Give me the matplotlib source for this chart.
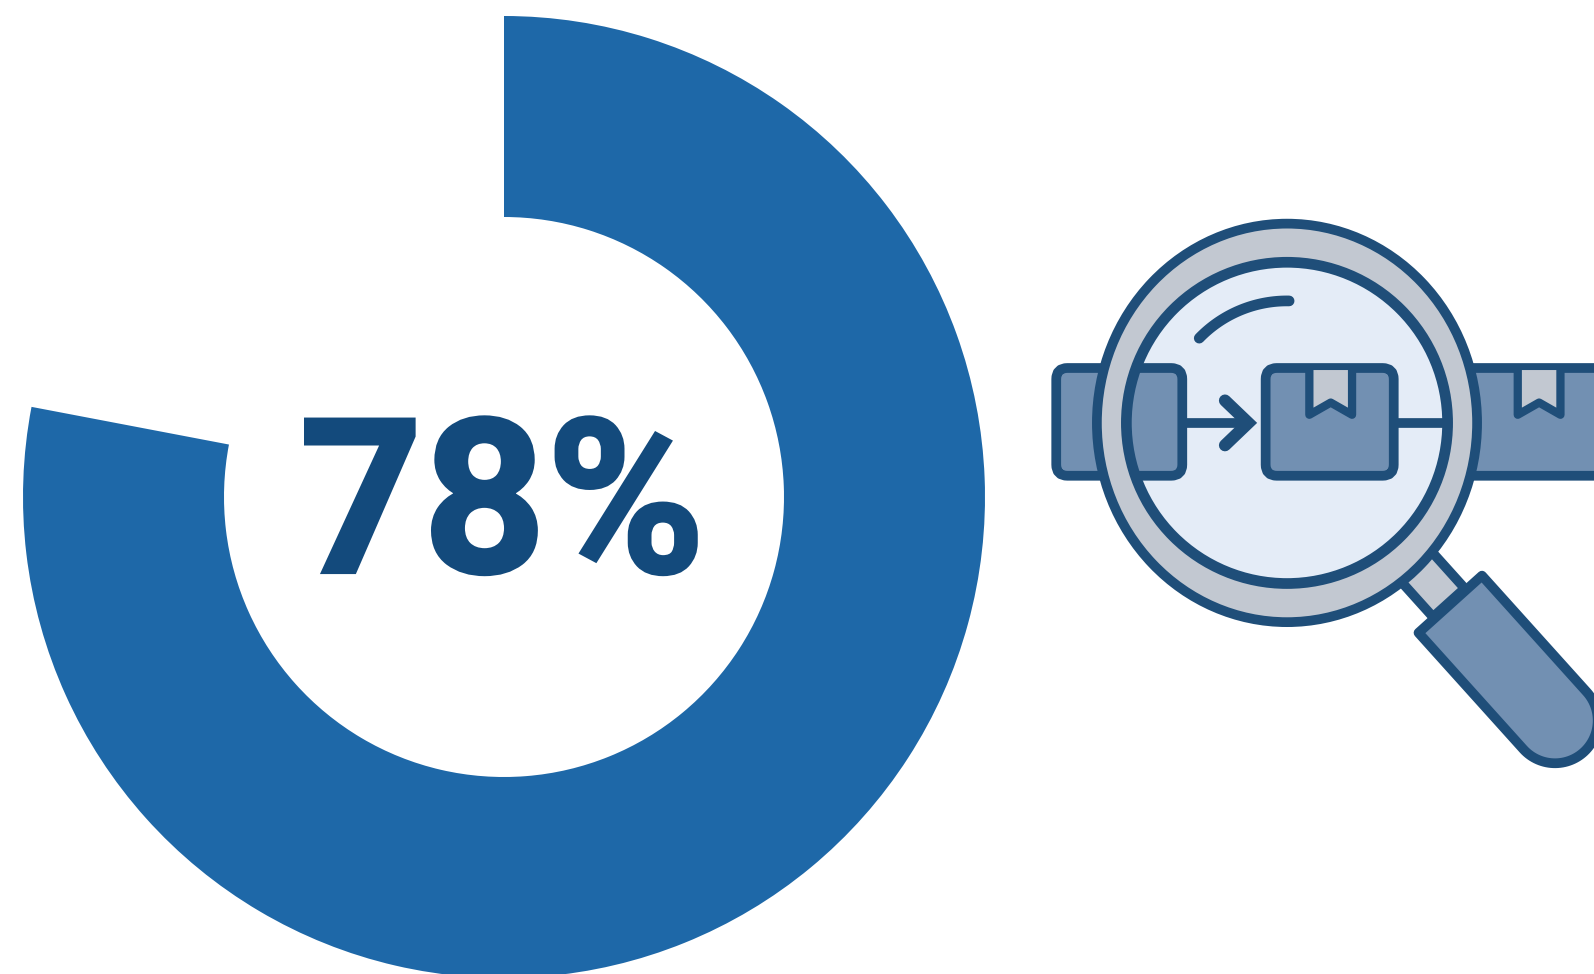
import numpy as np
import matplotlib
matplotlib.use("Agg")
import matplotlib.pyplot as plt
import matplotlib.patheffects as pe
from matplotlib.patches import Circle, Ellipse, FancyBboxPatch, Polygon

# Chart values
share_percent = 78
remainder_percent = 100 - share_percent
center_label = f"{share_percent}%"

W, H = 1594, 974
K = 1594 / 1568  # icon layout grid to canvas pixels
DARK = "#1f4e79"
BLUE = "#1e68a8"
TEXT = "#134a7c"
STEEL = "#7290b2"
GLASS = "#e4ecf7"
GREY = "#c2c8d1"

fig = plt.figure(figsize=(W / 100, H / 100), dpi=100, facecolor="white")

# Donut
donut_ax = fig.add_axes([23 / W, 1 - (16 + 962) / H, 962 / W, 962 / H])
donut_ax.pie(
    [share_percent, remainder_percent],
    colors=[BLUE, "none"],
    startangle=90,
    counterclock=False,
    radius=1.0,
    wedgeprops=dict(width=201 / 481, linewidth=0),
)
donut_ax.set_xlim(-1, 1)
donut_ax.set_ylim(-1, 1)
donut_ax.set_aspect("equal")
donut_ax.axis("off")

# Overlay in pixel units for the label and the magnifier icon
ax = fig.add_axes([0, 0, 1, 1])
ax.set_xlim(0, W / K)
ax.set_ylim(H / K, 0)
ax.axis("off")
ax.patch.set_alpha(0)

# Slightly heavier than the font's bold, with the outline kept sharp at the corners
ax.text(494, 563, center_label, family="Roboto", weight="bold", fontsize=155,
        color=TEXT, ha="center", va="baseline",
        path_effects=[pe.withStroke(linewidth=2.5, foreground=TEXT, joinstyle="miter")])

LW = 7.0  # outline width, points
cx, cy = 1266.0, 416.0
EDGE = 5  # half the outline, in layout units


def rbox(x0, y0, x1, y1, z, fc=STEEL):
    x0, y0, x1, y1 = x0 + EDGE, y0 + EDGE, x1 - EDGE, y1 - EDGE
    inset = 9
    patch = FancyBboxPatch((x0 + inset, y0 + inset), x1 - x0 - 2 * inset, y1 - y0 - 2 * inset,
                           boxstyle=f"round,pad={inset},rounding_size=11",
                           fc=fc, ec=DARK, lw=LW, zorder=z, joinstyle="round")
    ax.add_patch(patch)
    return patch


def tab(x0, x1, z):
    mid = (x0 + x1) / 2
    pts = [(x0, 364), (x0, 408), (mid, 396), (x1, 408), (x1, 364)]
    ax.add_patch(Polygon(pts, closed=False, fc=GREY, ec=DARK, lw=LW * 0.85,
                         joinstyle="round", capstyle="round", zorder=z))


# Belt piece leaving the lens on the right
rbox(1430, 357, 1700, 473, 2)
tab(1493, 1535, 2.5)

# Handle: straight shaft ending in a round cap
a = np.radians(48)
u = np.array([np.cos(a), np.sin(a)])
v = np.array([np.sin(a), -np.cos(a)])
c0 = np.array([cx, cy])
half = 42
start, end = 240, 394
ang = np.linspace(-np.pi / 2, np.pi / 2, 60)
shaft = [c0 + start * u - half * v]
shaft += [c0 + (end + half * np.cos(t)) * u + half * np.sin(t) * v for t in ang]
shaft += [c0 + start * u + half * v]
ax.add_patch(Polygon(np.array(shaft), closed=True, fc=STEEL, ec=DARK, lw=LW,
                     joinstyle="round", zorder=3))

# Neck between ring and handle
neck_half = 21
neck = [c0 + 185 * u + neck_half * v, c0 + 238 * u + neck_half * v,
        c0 + 238 * u - neck_half * v, c0 + 185 * u - neck_half * v]
ax.add_patch(Polygon(neck, closed=True, fc=GREY, ec=DARK, lw=LW, zorder=2.8))

# Metal ring body
ax.add_patch(Ellipse((cx, cy), 2 * 187, 2 * 196, fc=GREY, ec=DARK, lw=LW, zorder=3.5))

# Lens glass
ax.add_patch(Circle((cx, cy), 158, fc=GLASS, ec="none", zorder=4))

# Belt piece on the left, seen both outside and through the lens
rbox(1034, 357, 1168, 473, 3.2)
left_inner = rbox(1034, 357, 1168, 473, 5)
left_inner.set_clip_path(Circle((cx, cy), 158, transform=ax.transData))

# Arrow into the central parcel
ax.plot([1168, 1226], [416, 416], color=DARK, lw=LW, zorder=5)
ax.plot([1205, 1228, 1205], [394, 416, 438], color=DARK, lw=LW * 1.25,
        solid_capstyle="round", solid_joinstyle="miter", zorder=5)
ax.plot([1376, 1420], [416, 416], color=DARK, lw=LW, zorder=5)

# Central parcel
rbox(1240, 357, 1376, 473, 5.2)
tab(1288, 1330, 5.4)

# Glint on the glass
theta = np.radians(np.linspace(224, 271, 40))
rg = 120
ax.plot(cx + rg * np.cos(theta), cy + rg * np.sin(theta), color=DARK, lw=LW * 1.1,
        solid_capstyle="round", zorder=5.5)

# Lens rim
ax.add_patch(Circle((cx, cy), 158, fc="none", ec=DARK, lw=LW * 1.1, zorder=6.2))

fig.savefig("out.png", dpi=100, facecolor="white")
